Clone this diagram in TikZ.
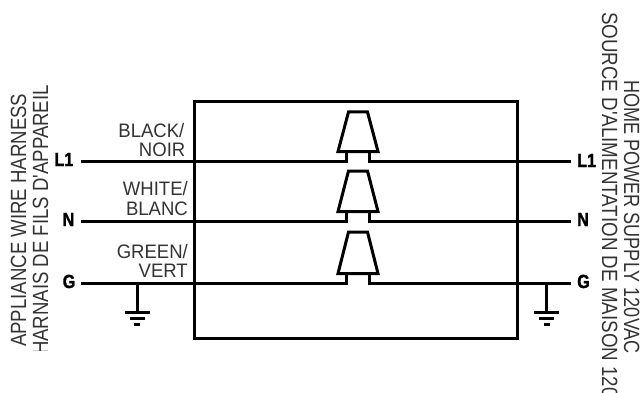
\documentclass[tikz,border=0pt]{standalone}
\usepackage{fontspec}
\setmainfont{Liberation Sans}
\newfontfamily\sidea{Liberation Sans}[FakeStretch=0.845]
\newfontfamily\sideb{Liberation Sans}[FakeStretch=0.822]
\newfontfamily\sidec{Liberation Sans}[FakeStretch=0.853]
\newfontfamily\narrowb{Liberation Sans}[FakeStretch=0.95]
\newfontfamily\tagfont{Liberation Sans}[FakeStretch=0.85,BoldFeatures={FakeBold=1.5}]
\definecolor{inktext}{gray}{0.2}
\tikzset{
  wire/.style={line width=3pt,line cap=butt,line join=miter},
  lab/.style={font=\narrowb\fontsize{19.5}{19}\selectfont,text=inktext,inner sep=0pt,anchor=base east},
  tag/.style={font=\tagfont\fontsize{19}{18}\selectfont\bfseries,inner sep=0pt,anchor=base west},
  side/.style={font=\fontsize{22}{22}\selectfont,text=inktext,inner sep=0pt},
}
\begin{document}
\begin{tikzpicture}[x=1pt,y=-1pt]
\useasboundingbox (0,0) rectangle (642,393);
% box
\node[draw,line width=3pt,minimum width=323pt,minimum height=237pt,inner sep=0pt,anchor=north west] (box) at (193,100) {};
% terminal labels
\node[tag,anchor=base east] (l1L) at (73.5,166) {L1};
\node[tag,anchor=base east] (nL) at (74.5,226) {N};
\node[tag,anchor=base east] (gL) at (75.5,288) {G};
\node[tag] (l1R) at (577,167) {L1};
\node[tag] (nR) at (577,226) {N};
\node[tag] (gR) at (577,288) {G};
% wires and connectors
\foreach \n/\y/\t in {a/161/112,b/221/171,c/283/232}{
  \coordinate (\n WL) at (81,\y);
  \coordinate (\n WR) at (571,\y);
  \coordinate (\n SL) at (346,\y);
  \coordinate (\n SR) at (369,\y);
  \draw[wire] (\n WL) -- (\n SL) -- ++(0,-9.5) coordinate (\n TL);
  \draw[wire] (\n WR) -- (\n SR) -- ++(0,-9.5) coordinate (\n TR);
  \draw[wire] (338,\y-9.5) -- (378,\y-9.5) -- (367.5,\t) -- (348.5,\t) -- cycle;
}
% grounds
\foreach \n/\x in {gndL/137,gndR/546.5}{
  \coordinate (\n) at (\x,283);
  \coordinate (\n E) at (\x,312.5);
  \draw[wire] (\n) -- (\n E);
  \draw[wire] (\x-12.5,312.5) -- (\x+12.5,312.5);
  \draw[wire] (\x-7.5,318) -- (\x+7.5,318);
  \draw[wire] (\x-3,324.5) -- (\x+3,324.5);
}
% colour labels
\node[lab] (t1) at (184.5,137) {BLACK/};
\node[lab] (t2) at (185.5,156) {NOIR};
\node[lab] (t3) at (188,195) {WHITE/};
\node[lab] (t4) at (188,215) {BLANC};
\node[lab] (t5) at (188,258) {GREEN/};
\node[lab] (t6) at (188,277) {VERT};
% side captions
\node[side,rotate=90,anchor=base west] (s1) at (26,347) {\sidea\fontsize{22}{22}\selectfont APPLIANCE WIRE HARNESS};
\begin{scope}
\clip (20,60) rectangle (60,350);
\node[side,rotate=90,anchor=base east] (s2) at (48,85) {\sidea\fontsize{22}{22}\selectfont HARNAIS DE FILS D'APPAREIL};
\end{scope}
\node[side,rotate=-90,anchor=base west] (s3) at (624,80) {\sideb\fontsize{22}{22}\selectfont HOME POWER SUPPLY 120VAC};
\node[side,rotate=-90,anchor=base west] (s4) at (602,12) {\sidec\fontsize{22}{22}\selectfont SOURCE D'ALIMENTATION DE MAISON 120VAC};
\end{tikzpicture}
\end{document}
